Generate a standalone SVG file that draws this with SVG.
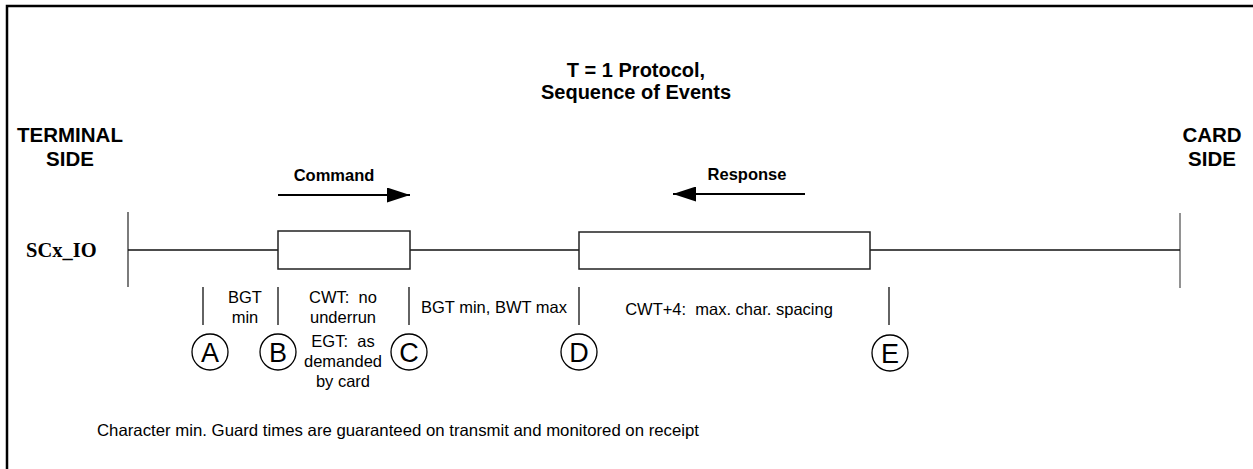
<svg xmlns="http://www.w3.org/2000/svg" width="1253" height="469" viewBox="0 0 1253 469">
<style>
.b{font-family:"Liberation Sans",Arial,sans-serif;font-weight:bold;fill:#000;text-anchor:middle}
.r{font-family:"Liberation Sans",Arial,sans-serif;fill:#000;text-anchor:middle;font-size:16.5px}
.l{font-family:"Liberation Sans",Arial,sans-serif;fill:#000;font-size:27px;text-anchor:middle}
.tick{stroke:#222;stroke-width:1.4}
.circ{fill:none;stroke:#000;stroke-width:1.3}
.box{fill:#fff;stroke:#222;stroke-width:1.5}
</style>
<defs>
<marker id="ah" viewBox="0 0 23 15" refX="23" refY="7.5" markerWidth="23" markerHeight="15" markerUnits="userSpaceOnUse" orient="auto">
<path d="M0,0 L23,7.5 L0,15 z" fill="#000"/>
</marker>
</defs>
<rect x="7" y="6" width="1262" height="480" fill="#fff" stroke="#000" stroke-width="2.5"/>
<g id="title">
<text class="b" x="636" y="77" font-size="20">T = 1 Protocol,</text>
<text class="b" x="636" y="99" font-size="20">Sequence of Events</text>
</g>
<g id="terminal-side">
<text class="b" x="70" y="142" font-size="20.5">TERMINAL</text>
<text class="b" x="70" y="166" font-size="20.5">SIDE</text>
<line x1="128" y1="212" x2="128" y2="287" stroke="#444" stroke-width="1.4"/>
</g>
<g id="card-side">
<text class="b" x="1212" y="142" font-size="20.5">CARD</text>
<text class="b" x="1212" y="166" font-size="20.5">SIDE</text>
<line x1="1180" y1="213" x2="1180" y2="288" stroke="#777" stroke-width="1.6"/>
</g>
<g id="signal-label">
<text x="26" y="257" font-family="'Liberation Serif','Times New Roman',serif" font-weight="bold" font-size="20.5" fill="#000">SCx_IO</text>
</g>
<g id="connectors">
<line x1="128" y1="250" x2="1180" y2="250" stroke="#111" stroke-width="1.3"/>
<line x1="278" y1="195" x2="410" y2="195" stroke="#000" stroke-width="2" marker-end="url(#ah)"/>
<line x1="805" y1="194" x2="673" y2="194" stroke="#000" stroke-width="2" marker-end="url(#ah)"/>
</g>
<g id="command">
<rect class="box" x="278" y="231" width="132" height="38"/>
<text class="b" x="334" y="181" font-size="16.5">Command</text>
</g>
<g id="response">
<rect class="box" x="579" y="232" width="291" height="37"/>
<text class="b" x="747" y="180" font-size="16.5">Response</text>
</g>
<g id="ticks">
<line class="tick" x1="203" y1="287" x2="203" y2="325"/>
<line class="tick" x1="278" y1="287" x2="278" y2="325"/>
<line class="tick" x1="409" y1="287" x2="409" y2="325"/>
<line class="tick" x1="579" y1="287" x2="579" y2="325"/>
<line class="tick" x1="889" y1="287" x2="889" y2="325"/>
</g>
<g id="label-bgt">
<text class="r" x="245" y="303">BGT</text>
<text class="r" x="245" y="323">min</text>
</g>
<g id="label-cwt">
<text class="r" x="343" y="303" xml:space="preserve">CWT:  no</text>
<text class="r" x="343" y="323">underrun</text>
<text class="r" x="343" y="347" xml:space="preserve">EGT:  as</text>
<text class="r" x="343" y="367">demanded</text>
<text class="r" x="343" y="387">by card</text>
</g>
<g id="label-bwt">
<text class="r" x="494" y="313">BGT min, BWT max</text>
</g>
<g id="label-cwt4">
<text class="r" x="729" y="315" xml:space="preserve">CWT+4:  max. char. spacing</text>
</g>
<g id="event-A"><circle class="circ" cx="210" cy="352" r="18"/><text class="l" x="210" y="362">A</text></g>
<g id="event-B"><circle class="circ" cx="278" cy="352" r="18"/><text class="l" x="278" y="362">B</text></g>
<g id="event-C"><circle class="circ" cx="409" cy="352" r="18"/><text class="l" x="409" y="362">C</text></g>
<g id="event-D"><circle class="circ" cx="579" cy="352" r="18"/><text class="l" x="579" y="362">D</text></g>
<g id="event-E"><circle class="circ" cx="890" cy="353" r="18"/><text class="l" x="890" y="363">E</text></g>
<g id="footer">
<text x="97" y="436" font-family="'Liberation Sans',Arial,sans-serif" font-size="16.5" fill="#000" textLength="602" lengthAdjust="spacingAndGlyphs">Character min. Guard times are guaranteed on transmit and monitored on receipt</text>
</g>
</svg>
